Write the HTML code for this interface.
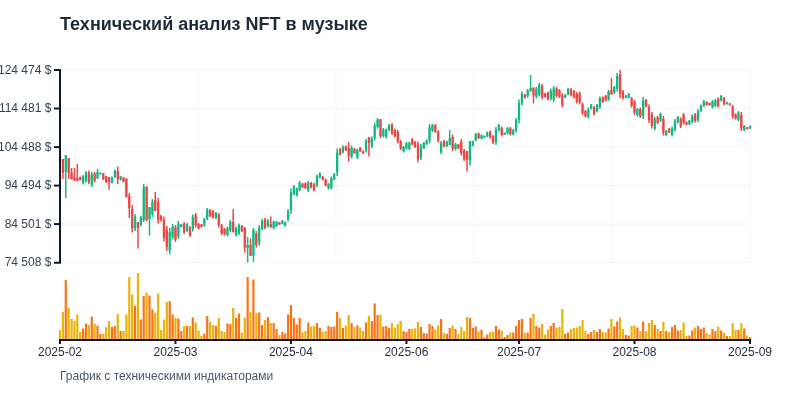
<!DOCTYPE html>
<html lang="ru"><head><meta charset="utf-8"><title>Технический анализ NFT в музыке</title>
<style>
html,body{margin:0;padding:0;background:#fff;}
body{width:800px;height:400px;overflow:hidden;font-family:"Liberation Sans",sans-serif;}
svg{display:block;will-change:transform;}
text{font-family:"Liberation Sans",sans-serif;}
.yl{font-size:12px;fill:#334155;text-anchor:end;}
.xl{font-size:12px;fill:#1e293b;text-anchor:middle;}
</style></head><body>
<svg width="800" height="400" viewBox="0 0 800 400">
<rect width="800" height="400" fill="#ffffff"/>
<text x="60" y="30" font-size="18" font-weight="700" fill="#1e293b">Технический анализ NFT в музыке</text>

<g stroke="#f5f6f8" stroke-width="1">
<line x1="60" x2="750" y1="70.0" y2="70.0"/>
<line x1="60" x2="750" y1="108.5" y2="108.5"/>
<line x1="60" x2="750" y1="147.1" y2="147.1"/>
<line x1="60" x2="750" y1="185.6" y2="185.6"/>
<line x1="60" x2="750" y1="224.1" y2="224.1"/>
<line x1="60" x2="750" y1="262.6" y2="262.6"/>
<line x1="198" x2="198" y1="70" y2="262.65"/>
<line x1="336" x2="336" y1="70" y2="262.65"/>
<line x1="474" x2="474" y1="70" y2="262.65"/>
<line x1="612" x2="612" y1="70" y2="262.65"/>
<line x1="750" x2="750" y1="70" y2="262.65"/>
</g>
<g>
<line x1="60.00" x2="60.00" y1="154.50" y2="162.00" stroke="#ef4444" stroke-width="1.5"/>
<rect x="58.85" y="154.50" width="2.3" height="7.50" fill="#ef4444"/>
<line x1="62.89" x2="62.89" y1="159.00" y2="179.00" stroke="#ef4444" stroke-width="1.5"/>
<rect x="61.74" y="159.00" width="2.3" height="14.00" fill="#ef4444"/>
<line x1="65.77" x2="65.77" y1="155.00" y2="198.00" stroke="#10b981" stroke-width="1.5"/>
<rect x="64.62" y="155.00" width="2.3" height="17.00" fill="#10b981"/>
<line x1="68.66" x2="68.66" y1="158.00" y2="179.00" stroke="#ef4444" stroke-width="1.5"/>
<rect x="67.51" y="158.00" width="2.3" height="15.00" fill="#ef4444"/>
<line x1="71.55" x2="71.55" y1="168.00" y2="179.40" stroke="#ef4444" stroke-width="1.5"/>
<rect x="70.40" y="172.50" width="2.3" height="6.90" fill="#ef4444"/>
<line x1="74.44" x2="74.44" y1="168.00" y2="181.00" stroke="#ef4444" stroke-width="1.5"/>
<rect x="73.29" y="177.00" width="2.3" height="3.50" fill="#ef4444"/>
<line x1="77.32" x2="77.32" y1="164.00" y2="181.20" stroke="#ef4444" stroke-width="1.5"/>
<rect x="76.17" y="178.00" width="2.3" height="3.00" fill="#ef4444"/>
<line x1="80.21" x2="80.21" y1="176.50" y2="180.50" stroke="#ef4444" stroke-width="1.5"/>
<rect x="79.06" y="177.10" width="2.3" height="2.80" fill="#ef4444"/>
<line x1="83.10" x2="83.10" y1="175.00" y2="184.50" stroke="#10b981" stroke-width="1.5"/>
<rect x="81.95" y="176.43" width="2.3" height="6.65" fill="#10b981"/>
<line x1="85.98" x2="85.98" y1="171.00" y2="182.50" stroke="#10b981" stroke-width="1.5"/>
<rect x="84.83" y="172.72" width="2.3" height="8.05" fill="#10b981"/>
<line x1="88.87" x2="88.87" y1="170.50" y2="184.00" stroke="#ef4444" stroke-width="1.5"/>
<rect x="87.72" y="172.53" width="2.3" height="9.45" fill="#ef4444"/>
<line x1="91.76" x2="91.76" y1="172.00" y2="187.00" stroke="#10b981" stroke-width="1.5"/>
<rect x="90.61" y="174.25" width="2.3" height="10.50" fill="#10b981"/>
<line x1="94.64" x2="94.64" y1="172.00" y2="182.50" stroke="#ef4444" stroke-width="1.5"/>
<rect x="93.49" y="173.57" width="2.3" height="7.35" fill="#ef4444"/>
<line x1="97.53" x2="97.53" y1="169.00" y2="178.50" stroke="#10b981" stroke-width="1.5"/>
<rect x="96.38" y="172.00" width="2.3" height="6.50" fill="#10b981"/>
<line x1="100.42" x2="100.42" y1="172.50" y2="174.50" stroke="#10b981" stroke-width="1.5"/>
<rect x="99.27" y="172.80" width="2.3" height="1.40" fill="#10b981"/>
<line x1="103.31" x2="103.31" y1="173.25" y2="179.60" stroke="#ef4444" stroke-width="1.5"/>
<rect x="102.16" y="173.25" width="2.3" height="6.35" fill="#ef4444"/>
<line x1="106.19" x2="106.19" y1="176.25" y2="182.60" stroke="#ef4444" stroke-width="1.5"/>
<rect x="105.04" y="176.25" width="2.3" height="6.35" fill="#ef4444"/>
<line x1="109.08" x2="109.08" y1="177.00" y2="189.75" stroke="#ef4444" stroke-width="1.5"/>
<rect x="107.93" y="177.00" width="2.3" height="5.00" fill="#ef4444"/>
<line x1="111.97" x2="111.97" y1="176.50" y2="183.50" stroke="#10b981" stroke-width="1.5"/>
<rect x="110.82" y="177.55" width="2.3" height="4.90" fill="#10b981"/>
<line x1="114.85" x2="114.85" y1="169.50" y2="178.00" stroke="#10b981" stroke-width="1.5"/>
<rect x="113.70" y="170.78" width="2.3" height="5.95" fill="#10b981"/>
<line x1="117.74" x2="117.74" y1="166.50" y2="184.00" stroke="#ef4444" stroke-width="1.5"/>
<rect x="116.59" y="171.00" width="2.3" height="8.25" fill="#ef4444"/>
<line x1="120.63" x2="120.63" y1="176.00" y2="180.50" stroke="#10b981" stroke-width="1.5"/>
<rect x="119.48" y="176.68" width="2.3" height="3.15" fill="#10b981"/>
<line x1="123.51" x2="123.51" y1="177.00" y2="182.50" stroke="#ef4444" stroke-width="1.5"/>
<rect x="122.36" y="177.82" width="2.3" height="3.85" fill="#ef4444"/>
<line x1="126.40" x2="126.40" y1="178.50" y2="197.50" stroke="#ef4444" stroke-width="1.5"/>
<rect x="125.25" y="178.50" width="2.3" height="18.50" fill="#ef4444"/>
<line x1="129.29" x2="129.29" y1="193.00" y2="218.00" stroke="#ef4444" stroke-width="1.5"/>
<rect x="128.14" y="196.00" width="2.3" height="12.00" fill="#ef4444"/>
<line x1="132.18" x2="132.18" y1="205.00" y2="232.50" stroke="#ef4444" stroke-width="1.5"/>
<rect x="131.03" y="209.12" width="2.3" height="19.25" fill="#ef4444"/>
<line x1="135.06" x2="135.06" y1="214.00" y2="231.00" stroke="#10b981" stroke-width="1.5"/>
<rect x="133.91" y="216.55" width="2.3" height="11.90" fill="#10b981"/>
<line x1="137.95" x2="137.95" y1="222.00" y2="248.50" stroke="#ef4444" stroke-width="1.5"/>
<rect x="136.80" y="222.00" width="2.3" height="6.00" fill="#ef4444"/>
<line x1="140.84" x2="140.84" y1="216.00" y2="226.50" stroke="#10b981" stroke-width="1.5"/>
<rect x="139.69" y="217.57" width="2.3" height="7.35" fill="#10b981"/>
<line x1="143.72" x2="143.72" y1="184.00" y2="222.00" stroke="#10b981" stroke-width="1.5"/>
<rect x="142.57" y="187.00" width="2.3" height="33.00" fill="#10b981"/>
<line x1="146.61" x2="146.61" y1="186.00" y2="221.50" stroke="#ef4444" stroke-width="1.5"/>
<rect x="145.46" y="187.00" width="2.3" height="33.00" fill="#ef4444"/>
<line x1="149.50" x2="149.50" y1="207.00" y2="235.50" stroke="#10b981" stroke-width="1.5"/>
<rect x="148.35" y="207.00" width="2.3" height="12.00" fill="#10b981"/>
<line x1="152.38" x2="152.38" y1="199.00" y2="217.00" stroke="#10b981" stroke-width="1.5"/>
<rect x="151.23" y="201.70" width="2.3" height="12.60" fill="#10b981"/>
<line x1="155.27" x2="155.27" y1="192.00" y2="211.00" stroke="#ef4444" stroke-width="1.5"/>
<rect x="154.12" y="200.00" width="2.3" height="11.00" fill="#ef4444"/>
<line x1="158.16" x2="158.16" y1="198.00" y2="223.50" stroke="#ef4444" stroke-width="1.5"/>
<rect x="157.01" y="201.82" width="2.3" height="17.85" fill="#ef4444"/>
<line x1="161.05" x2="161.05" y1="215.00" y2="221.50" stroke="#ef4444" stroke-width="1.5"/>
<rect x="159.90" y="215.97" width="2.3" height="4.55" fill="#ef4444"/>
<line x1="163.93" x2="163.93" y1="216.50" y2="241.50" stroke="#ef4444" stroke-width="1.5"/>
<rect x="162.78" y="220.25" width="2.3" height="17.50" fill="#ef4444"/>
<line x1="166.82" x2="166.82" y1="226.00" y2="251.00" stroke="#ef4444" stroke-width="1.5"/>
<rect x="165.67" y="229.75" width="2.3" height="17.50" fill="#ef4444"/>
<line x1="169.71" x2="169.71" y1="228.00" y2="254.50" stroke="#10b981" stroke-width="1.5"/>
<rect x="168.56" y="231.97" width="2.3" height="18.55" fill="#10b981"/>
<line x1="172.59" x2="172.59" y1="224.00" y2="239.50" stroke="#10b981" stroke-width="1.5"/>
<rect x="171.44" y="226.32" width="2.3" height="10.85" fill="#10b981"/>
<line x1="175.48" x2="175.48" y1="225.00" y2="242.00" stroke="#ef4444" stroke-width="1.5"/>
<rect x="174.33" y="227.55" width="2.3" height="11.90" fill="#ef4444"/>
<line x1="178.37" x2="178.37" y1="221.00" y2="238.50" stroke="#10b981" stroke-width="1.5"/>
<rect x="177.22" y="223.62" width="2.3" height="12.25" fill="#10b981"/>
<line x1="181.26" x2="181.26" y1="224.00" y2="227.50" stroke="#10b981" stroke-width="1.5"/>
<rect x="180.11" y="224.53" width="2.3" height="2.45" fill="#10b981"/>
<line x1="184.14" x2="184.14" y1="222.00" y2="234.00" stroke="#ef4444" stroke-width="1.5"/>
<rect x="182.99" y="223.80" width="2.3" height="8.40" fill="#ef4444"/>
<line x1="187.03" x2="187.03" y1="223.00" y2="232.00" stroke="#10b981" stroke-width="1.5"/>
<rect x="185.88" y="224.35" width="2.3" height="6.30" fill="#10b981"/>
<line x1="189.92" x2="189.92" y1="226.00" y2="237.00" stroke="#ef4444" stroke-width="1.5"/>
<rect x="188.77" y="227.65" width="2.3" height="7.70" fill="#ef4444"/>
<line x1="192.80" x2="192.80" y1="214.50" y2="231.50" stroke="#10b981" stroke-width="1.5"/>
<rect x="191.65" y="217.05" width="2.3" height="11.90" fill="#10b981"/>
<line x1="195.69" x2="195.69" y1="213.00" y2="227.50" stroke="#ef4444" stroke-width="1.5"/>
<rect x="194.54" y="215.18" width="2.3" height="10.15" fill="#ef4444"/>
<line x1="198.58" x2="198.58" y1="223.00" y2="229.50" stroke="#ef4444" stroke-width="1.5"/>
<rect x="197.43" y="223.97" width="2.3" height="4.55" fill="#ef4444"/>
<line x1="201.46" x2="201.46" y1="224.00" y2="227.50" stroke="#ef4444" stroke-width="1.5"/>
<rect x="200.31" y="224.53" width="2.3" height="2.45" fill="#ef4444"/>
<line x1="204.35" x2="204.35" y1="218.00" y2="226.50" stroke="#10b981" stroke-width="1.5"/>
<rect x="203.20" y="219.28" width="2.3" height="5.95" fill="#10b981"/>
<line x1="207.24" x2="207.24" y1="208.00" y2="220.00" stroke="#10b981" stroke-width="1.5"/>
<rect x="206.09" y="209.80" width="2.3" height="8.40" fill="#10b981"/>
<line x1="210.13" x2="210.13" y1="209.00" y2="217.00" stroke="#ef4444" stroke-width="1.5"/>
<rect x="208.98" y="210.20" width="2.3" height="5.60" fill="#ef4444"/>
<line x1="213.01" x2="213.01" y1="210.00" y2="218.50" stroke="#ef4444" stroke-width="1.5"/>
<rect x="211.86" y="211.28" width="2.3" height="5.95" fill="#ef4444"/>
<line x1="215.90" x2="215.90" y1="212.00" y2="219.00" stroke="#10b981" stroke-width="1.5"/>
<rect x="214.75" y="213.05" width="2.3" height="4.90" fill="#10b981"/>
<line x1="218.79" x2="218.79" y1="213.00" y2="227.50" stroke="#ef4444" stroke-width="1.5"/>
<rect x="217.64" y="215.18" width="2.3" height="10.15" fill="#ef4444"/>
<line x1="221.67" x2="221.67" y1="224.00" y2="235.00" stroke="#ef4444" stroke-width="1.5"/>
<rect x="220.52" y="225.65" width="2.3" height="7.70" fill="#ef4444"/>
<line x1="224.56" x2="224.56" y1="228.00" y2="235.50" stroke="#ef4444" stroke-width="1.5"/>
<rect x="223.41" y="229.12" width="2.3" height="5.25" fill="#ef4444"/>
<line x1="227.45" x2="227.45" y1="226.50" y2="236.50" stroke="#10b981" stroke-width="1.5"/>
<rect x="226.30" y="228.00" width="2.3" height="7.00" fill="#10b981"/>
<line x1="230.33" x2="230.33" y1="220.00" y2="232.00" stroke="#10b981" stroke-width="1.5"/>
<rect x="229.18" y="221.80" width="2.3" height="8.40" fill="#10b981"/>
<line x1="233.22" x2="233.22" y1="209.00" y2="232.50" stroke="#ef4444" stroke-width="1.5"/>
<rect x="232.07" y="222.00" width="2.3" height="10.00" fill="#ef4444"/>
<line x1="236.11" x2="236.11" y1="226.50" y2="236.50" stroke="#10b981" stroke-width="1.5"/>
<rect x="234.96" y="228.00" width="2.3" height="7.00" fill="#10b981"/>
<line x1="239.00" x2="239.00" y1="223.50" y2="235.00" stroke="#10b981" stroke-width="1.5"/>
<rect x="237.85" y="225.22" width="2.3" height="8.05" fill="#10b981"/>
<line x1="241.88" x2="241.88" y1="225.00" y2="232.00" stroke="#ef4444" stroke-width="1.5"/>
<rect x="240.73" y="226.05" width="2.3" height="4.90" fill="#ef4444"/>
<line x1="244.77" x2="244.77" y1="227.00" y2="252.50" stroke="#ef4444" stroke-width="1.5"/>
<rect x="243.62" y="228.00" width="2.3" height="19.50" fill="#ef4444"/>
<line x1="247.66" x2="247.66" y1="237.00" y2="262.50" stroke="#10b981" stroke-width="1.5"/>
<rect x="246.51" y="245.00" width="2.3" height="3.00" fill="#10b981"/>
<line x1="250.54" x2="250.54" y1="238.50" y2="256.00" stroke="#ef4444" stroke-width="1.5"/>
<rect x="249.39" y="245.00" width="2.3" height="11.00" fill="#ef4444"/>
<line x1="253.43" x2="253.43" y1="228.00" y2="262.00" stroke="#10b981" stroke-width="1.5"/>
<rect x="252.28" y="230.00" width="2.3" height="25.50" fill="#10b981"/>
<line x1="256.32" x2="256.32" y1="231.00" y2="247.50" stroke="#ef4444" stroke-width="1.5"/>
<rect x="255.17" y="233.47" width="2.3" height="11.55" fill="#ef4444"/>
<line x1="259.21" x2="259.21" y1="225.00" y2="245.50" stroke="#10b981" stroke-width="1.5"/>
<rect x="258.06" y="228.07" width="2.3" height="14.35" fill="#10b981"/>
<line x1="262.09" x2="262.09" y1="219.00" y2="230.50" stroke="#10b981" stroke-width="1.5"/>
<rect x="260.94" y="220.72" width="2.3" height="8.05" fill="#10b981"/>
<line x1="264.98" x2="264.98" y1="218.00" y2="229.50" stroke="#ef4444" stroke-width="1.5"/>
<rect x="263.83" y="219.72" width="2.3" height="8.05" fill="#ef4444"/>
<line x1="267.87" x2="267.87" y1="219.00" y2="227.50" stroke="#10b981" stroke-width="1.5"/>
<rect x="266.72" y="220.28" width="2.3" height="5.95" fill="#10b981"/>
<line x1="270.75" x2="270.75" y1="216.50" y2="227.50" stroke="#ef4444" stroke-width="1.5"/>
<rect x="269.60" y="224.00" width="2.3" height="3.50" fill="#ef4444"/>
<line x1="273.64" x2="273.64" y1="220.50" y2="229.50" stroke="#10b981" stroke-width="1.5"/>
<rect x="272.49" y="221.85" width="2.3" height="6.30" fill="#10b981"/>
<line x1="276.53" x2="276.53" y1="221.00" y2="227.00" stroke="#10b981" stroke-width="1.5"/>
<rect x="275.38" y="221.90" width="2.3" height="4.20" fill="#10b981"/>
<line x1="279.41" x2="279.41" y1="222.00" y2="225.00" stroke="#ef4444" stroke-width="1.5"/>
<rect x="278.26" y="222.45" width="2.3" height="2.10" fill="#ef4444"/>
<line x1="282.30" x2="282.30" y1="220.00" y2="224.50" stroke="#10b981" stroke-width="1.5"/>
<rect x="281.15" y="220.68" width="2.3" height="3.15" fill="#10b981"/>
<line x1="285.19" x2="285.19" y1="221.50" y2="226.50" stroke="#10b981" stroke-width="1.5"/>
<rect x="284.04" y="222.25" width="2.3" height="3.50" fill="#10b981"/>
<line x1="288.08" x2="288.08" y1="209.00" y2="221.50" stroke="#10b981" stroke-width="1.5"/>
<rect x="286.93" y="210.88" width="2.3" height="8.75" fill="#10b981"/>
<line x1="290.96" x2="290.96" y1="188.50" y2="214.00" stroke="#10b981" stroke-width="1.5"/>
<rect x="289.81" y="192.32" width="2.3" height="17.85" fill="#10b981"/>
<line x1="293.85" x2="293.85" y1="185.00" y2="195.50" stroke="#10b981" stroke-width="1.5"/>
<rect x="292.70" y="186.57" width="2.3" height="7.35" fill="#10b981"/>
<line x1="296.74" x2="296.74" y1="187.50" y2="196.50" stroke="#10b981" stroke-width="1.5"/>
<rect x="295.59" y="188.85" width="2.3" height="6.30" fill="#10b981"/>
<line x1="299.62" x2="299.62" y1="181.00" y2="191.50" stroke="#10b981" stroke-width="1.5"/>
<rect x="298.47" y="182.57" width="2.3" height="7.35" fill="#10b981"/>
<line x1="302.51" x2="302.51" y1="183.00" y2="188.00" stroke="#ef4444" stroke-width="1.5"/>
<rect x="301.36" y="183.75" width="2.3" height="3.50" fill="#ef4444"/>
<line x1="305.40" x2="305.40" y1="182.50" y2="189.00" stroke="#ef4444" stroke-width="1.5"/>
<rect x="304.25" y="183.47" width="2.3" height="4.55" fill="#ef4444"/>
<line x1="308.28" x2="308.28" y1="181.00" y2="192.00" stroke="#10b981" stroke-width="1.5"/>
<rect x="307.13" y="182.65" width="2.3" height="7.70" fill="#10b981"/>
<line x1="311.17" x2="311.17" y1="182.00" y2="188.50" stroke="#ef4444" stroke-width="1.5"/>
<rect x="310.02" y="182.97" width="2.3" height="4.55" fill="#ef4444"/>
<line x1="314.06" x2="314.06" y1="183.00" y2="191.50" stroke="#ef4444" stroke-width="1.5"/>
<rect x="312.91" y="184.28" width="2.3" height="5.95" fill="#ef4444"/>
<line x1="316.95" x2="316.95" y1="174.50" y2="187.00" stroke="#10b981" stroke-width="1.5"/>
<rect x="315.80" y="176.38" width="2.3" height="8.75" fill="#10b981"/>
<line x1="319.83" x2="319.83" y1="172.50" y2="178.50" stroke="#10b981" stroke-width="1.5"/>
<rect x="318.68" y="173.40" width="2.3" height="4.20" fill="#10b981"/>
<line x1="322.72" x2="322.72" y1="176.00" y2="180.50" stroke="#ef4444" stroke-width="1.5"/>
<rect x="321.57" y="176.68" width="2.3" height="3.15" fill="#ef4444"/>
<line x1="325.61" x2="325.61" y1="178.50" y2="186.50" stroke="#ef4444" stroke-width="1.5"/>
<rect x="324.46" y="179.70" width="2.3" height="5.60" fill="#ef4444"/>
<line x1="328.49" x2="328.49" y1="183.00" y2="189.50" stroke="#10b981" stroke-width="1.5"/>
<rect x="327.34" y="183.97" width="2.3" height="4.55" fill="#10b981"/>
<line x1="331.38" x2="331.38" y1="176.50" y2="189.50" stroke="#10b981" stroke-width="1.5"/>
<rect x="330.23" y="178.45" width="2.3" height="9.10" fill="#10b981"/>
<line x1="334.27" x2="334.27" y1="173.00" y2="180.50" stroke="#10b981" stroke-width="1.5"/>
<rect x="333.12" y="174.12" width="2.3" height="5.25" fill="#10b981"/>
<line x1="337.15" x2="337.15" y1="148.50" y2="176.00" stroke="#10b981" stroke-width="1.5"/>
<rect x="336.00" y="152.62" width="2.3" height="19.25" fill="#10b981"/>
<line x1="340.04" x2="340.04" y1="148.00" y2="155.50" stroke="#ef4444" stroke-width="1.5"/>
<rect x="338.89" y="149.12" width="2.3" height="5.25" fill="#ef4444"/>
<line x1="342.93" x2="342.93" y1="145.50" y2="153.50" stroke="#10b981" stroke-width="1.5"/>
<rect x="341.78" y="146.70" width="2.3" height="5.60" fill="#10b981"/>
<line x1="345.82" x2="345.82" y1="145.50" y2="151.00" stroke="#ef4444" stroke-width="1.5"/>
<rect x="344.67" y="146.32" width="2.3" height="3.85" fill="#ef4444"/>
<line x1="348.70" x2="348.70" y1="142.00" y2="161.50" stroke="#ef4444" stroke-width="1.5"/>
<rect x="347.55" y="148.00" width="2.3" height="8.00" fill="#ef4444"/>
<line x1="351.59" x2="351.59" y1="145.50" y2="158.50" stroke="#10b981" stroke-width="1.5"/>
<rect x="350.44" y="147.45" width="2.3" height="9.10" fill="#10b981"/>
<line x1="354.48" x2="354.48" y1="148.00" y2="154.00" stroke="#ef4444" stroke-width="1.5"/>
<rect x="353.33" y="148.90" width="2.3" height="4.20" fill="#ef4444"/>
<line x1="357.36" x2="357.36" y1="148.50" y2="159.00" stroke="#10b981" stroke-width="1.5"/>
<rect x="356.21" y="150.07" width="2.3" height="7.35" fill="#10b981"/>
<line x1="360.25" x2="360.25" y1="147.00" y2="152.00" stroke="#ef4444" stroke-width="1.5"/>
<rect x="359.10" y="147.75" width="2.3" height="3.50" fill="#ef4444"/>
<line x1="363.14" x2="363.14" y1="150.50" y2="154.00" stroke="#ef4444" stroke-width="1.5"/>
<rect x="361.99" y="151.03" width="2.3" height="2.45" fill="#ef4444"/>
<line x1="366.03" x2="366.03" y1="139.00" y2="152.50" stroke="#10b981" stroke-width="1.5"/>
<rect x="364.88" y="141.03" width="2.3" height="9.45" fill="#10b981"/>
<line x1="368.91" x2="368.91" y1="137.00" y2="156.50" stroke="#ef4444" stroke-width="1.5"/>
<rect x="367.76" y="137.00" width="2.3" height="6.00" fill="#ef4444"/>
<line x1="371.80" x2="371.80" y1="136.50" y2="148.00" stroke="#10b981" stroke-width="1.5"/>
<rect x="370.65" y="138.22" width="2.3" height="8.05" fill="#10b981"/>
<line x1="374.69" x2="374.69" y1="123.00" y2="140.50" stroke="#10b981" stroke-width="1.5"/>
<rect x="373.54" y="125.62" width="2.3" height="12.25" fill="#10b981"/>
<line x1="377.57" x2="377.57" y1="118.00" y2="128.50" stroke="#10b981" stroke-width="1.5"/>
<rect x="376.42" y="119.58" width="2.3" height="7.35" fill="#10b981"/>
<line x1="380.46" x2="380.46" y1="119.00" y2="138.00" stroke="#ef4444" stroke-width="1.5"/>
<rect x="379.31" y="119.00" width="2.3" height="17.00" fill="#ef4444"/>
<line x1="383.35" x2="383.35" y1="128.00" y2="137.50" stroke="#10b981" stroke-width="1.5"/>
<rect x="382.20" y="129.43" width="2.3" height="6.65" fill="#10b981"/>
<line x1="386.23" x2="386.23" y1="128.50" y2="138.50" stroke="#10b981" stroke-width="1.5"/>
<rect x="385.08" y="130.00" width="2.3" height="7.00" fill="#10b981"/>
<line x1="389.12" x2="389.12" y1="124.00" y2="131.00" stroke="#10b981" stroke-width="1.5"/>
<rect x="387.97" y="125.05" width="2.3" height="4.90" fill="#10b981"/>
<line x1="392.01" x2="392.01" y1="123.00" y2="135.00" stroke="#ef4444" stroke-width="1.5"/>
<rect x="390.86" y="124.80" width="2.3" height="8.40" fill="#ef4444"/>
<line x1="394.90" x2="394.90" y1="128.50" y2="137.50" stroke="#ef4444" stroke-width="1.5"/>
<rect x="393.75" y="129.85" width="2.3" height="6.30" fill="#ef4444"/>
<line x1="397.78" x2="397.78" y1="130.00" y2="143.50" stroke="#ef4444" stroke-width="1.5"/>
<rect x="396.63" y="132.03" width="2.3" height="9.45" fill="#ef4444"/>
<line x1="400.67" x2="400.67" y1="140.00" y2="150.00" stroke="#ef4444" stroke-width="1.5"/>
<rect x="399.52" y="141.50" width="2.3" height="7.00" fill="#ef4444"/>
<line x1="403.56" x2="403.56" y1="146.00" y2="152.50" stroke="#10b981" stroke-width="1.5"/>
<rect x="402.41" y="146.97" width="2.3" height="4.55" fill="#10b981"/>
<line x1="406.44" x2="406.44" y1="142.00" y2="149.50" stroke="#10b981" stroke-width="1.5"/>
<rect x="405.29" y="143.12" width="2.3" height="5.25" fill="#10b981"/>
<line x1="409.33" x2="409.33" y1="141.50" y2="150.00" stroke="#10b981" stroke-width="1.5"/>
<rect x="408.18" y="142.78" width="2.3" height="5.95" fill="#10b981"/>
<line x1="412.22" x2="412.22" y1="138.00" y2="145.50" stroke="#ef4444" stroke-width="1.5"/>
<rect x="411.07" y="139.12" width="2.3" height="5.25" fill="#ef4444"/>
<line x1="415.10" x2="415.10" y1="141.00" y2="148.00" stroke="#ef4444" stroke-width="1.5"/>
<rect x="413.95" y="142.05" width="2.3" height="4.90" fill="#ef4444"/>
<line x1="417.99" x2="417.99" y1="141.50" y2="162.50" stroke="#ef4444" stroke-width="1.5"/>
<rect x="416.84" y="144.65" width="2.3" height="14.70" fill="#ef4444"/>
<line x1="420.88" x2="420.88" y1="144.00" y2="160.00" stroke="#10b981" stroke-width="1.5"/>
<rect x="419.73" y="146.40" width="2.3" height="11.20" fill="#10b981"/>
<line x1="423.77" x2="423.77" y1="142.00" y2="149.00" stroke="#10b981" stroke-width="1.5"/>
<rect x="422.62" y="143.05" width="2.3" height="4.90" fill="#10b981"/>
<line x1="426.65" x2="426.65" y1="139.50" y2="145.00" stroke="#10b981" stroke-width="1.5"/>
<rect x="425.50" y="140.32" width="2.3" height="3.85" fill="#10b981"/>
<line x1="429.54" x2="429.54" y1="124.00" y2="143.50" stroke="#10b981" stroke-width="1.5"/>
<rect x="428.39" y="126.92" width="2.3" height="13.65" fill="#10b981"/>
<line x1="432.43" x2="432.43" y1="124.00" y2="132.00" stroke="#10b981" stroke-width="1.5"/>
<rect x="431.28" y="125.20" width="2.3" height="5.60" fill="#10b981"/>
<line x1="435.31" x2="435.31" y1="124.00" y2="133.00" stroke="#ef4444" stroke-width="1.5"/>
<rect x="434.16" y="125.35" width="2.3" height="6.30" fill="#ef4444"/>
<line x1="438.20" x2="438.20" y1="130.00" y2="142.50" stroke="#ef4444" stroke-width="1.5"/>
<rect x="437.05" y="131.88" width="2.3" height="8.75" fill="#ef4444"/>
<line x1="441.09" x2="441.09" y1="141.00" y2="154.00" stroke="#10b981" stroke-width="1.5"/>
<rect x="439.94" y="142.95" width="2.3" height="9.10" fill="#10b981"/>
<line x1="443.97" x2="443.97" y1="140.00" y2="147.50" stroke="#ef4444" stroke-width="1.5"/>
<rect x="442.82" y="141.12" width="2.3" height="5.25" fill="#ef4444"/>
<line x1="446.86" x2="446.86" y1="141.00" y2="147.00" stroke="#10b981" stroke-width="1.5"/>
<rect x="445.71" y="141.90" width="2.3" height="4.20" fill="#10b981"/>
<line x1="449.75" x2="449.75" y1="130.00" y2="145.00" stroke="#10b981" stroke-width="1.5"/>
<rect x="448.60" y="138.00" width="2.3" height="7.00" fill="#10b981"/>
<line x1="452.64" x2="452.64" y1="134.50" y2="151.50" stroke="#ef4444" stroke-width="1.5"/>
<rect x="451.49" y="137.05" width="2.3" height="11.90" fill="#ef4444"/>
<line x1="455.52" x2="455.52" y1="143.00" y2="150.50" stroke="#10b981" stroke-width="1.5"/>
<rect x="454.37" y="144.12" width="2.3" height="5.25" fill="#10b981"/>
<line x1="458.41" x2="458.41" y1="144.00" y2="149.00" stroke="#ef4444" stroke-width="1.5"/>
<rect x="457.26" y="144.75" width="2.3" height="3.50" fill="#ef4444"/>
<line x1="461.30" x2="461.30" y1="139.00" y2="155.50" stroke="#ef4444" stroke-width="1.5"/>
<rect x="460.15" y="141.47" width="2.3" height="11.55" fill="#ef4444"/>
<line x1="464.18" x2="464.18" y1="149.00" y2="161.00" stroke="#ef4444" stroke-width="1.5"/>
<rect x="463.03" y="150.80" width="2.3" height="8.40" fill="#ef4444"/>
<line x1="467.07" x2="467.07" y1="151.00" y2="171.50" stroke="#ef4444" stroke-width="1.5"/>
<rect x="465.92" y="151.00" width="2.3" height="9.00" fill="#ef4444"/>
<line x1="469.96" x2="469.96" y1="141.00" y2="165.50" stroke="#10b981" stroke-width="1.5"/>
<rect x="468.81" y="141.00" width="2.3" height="19.50" fill="#10b981"/>
<line x1="472.85" x2="472.85" y1="140.50" y2="146.50" stroke="#10b981" stroke-width="1.5"/>
<rect x="471.70" y="141.40" width="2.3" height="4.20" fill="#10b981"/>
<line x1="475.73" x2="475.73" y1="133.00" y2="141.50" stroke="#10b981" stroke-width="1.5"/>
<rect x="474.58" y="134.28" width="2.3" height="5.95" fill="#10b981"/>
<line x1="478.62" x2="478.62" y1="132.50" y2="139.00" stroke="#ef4444" stroke-width="1.5"/>
<rect x="477.47" y="133.47" width="2.3" height="4.55" fill="#ef4444"/>
<line x1="481.51" x2="481.51" y1="134.50" y2="139.50" stroke="#10b981" stroke-width="1.5"/>
<rect x="480.36" y="135.25" width="2.3" height="3.50" fill="#10b981"/>
<line x1="484.39" x2="484.39" y1="135.50" y2="138.00" stroke="#10b981" stroke-width="1.5"/>
<rect x="483.24" y="135.88" width="2.3" height="1.75" fill="#10b981"/>
<line x1="487.28" x2="487.28" y1="131.50" y2="137.00" stroke="#10b981" stroke-width="1.5"/>
<rect x="486.13" y="132.32" width="2.3" height="3.85" fill="#10b981"/>
<line x1="490.17" x2="490.17" y1="130.50" y2="138.50" stroke="#ef4444" stroke-width="1.5"/>
<rect x="489.02" y="131.70" width="2.3" height="5.60" fill="#ef4444"/>
<line x1="493.05" x2="493.05" y1="135.00" y2="144.00" stroke="#ef4444" stroke-width="1.5"/>
<rect x="491.90" y="136.35" width="2.3" height="6.30" fill="#ef4444"/>
<line x1="495.94" x2="495.94" y1="127.00" y2="145.00" stroke="#10b981" stroke-width="1.5"/>
<rect x="494.79" y="129.70" width="2.3" height="12.60" fill="#10b981"/>
<line x1="498.83" x2="498.83" y1="124.00" y2="131.50" stroke="#10b981" stroke-width="1.5"/>
<rect x="497.68" y="125.12" width="2.3" height="5.25" fill="#10b981"/>
<line x1="501.72" x2="501.72" y1="126.50" y2="136.50" stroke="#ef4444" stroke-width="1.5"/>
<rect x="500.57" y="128.00" width="2.3" height="7.00" fill="#ef4444"/>
<line x1="504.60" x2="504.60" y1="132.50" y2="135.00" stroke="#10b981" stroke-width="1.5"/>
<rect x="503.45" y="132.88" width="2.3" height="1.75" fill="#10b981"/>
<line x1="507.49" x2="507.49" y1="127.00" y2="134.50" stroke="#10b981" stroke-width="1.5"/>
<rect x="506.34" y="128.12" width="2.3" height="5.25" fill="#10b981"/>
<line x1="510.38" x2="510.38" y1="127.00" y2="135.50" stroke="#ef4444" stroke-width="1.5"/>
<rect x="509.23" y="128.28" width="2.3" height="5.95" fill="#ef4444"/>
<line x1="513.26" x2="513.26" y1="129.00" y2="135.50" stroke="#10b981" stroke-width="1.5"/>
<rect x="512.11" y="129.97" width="2.3" height="4.55" fill="#10b981"/>
<line x1="516.15" x2="516.15" y1="118.00" y2="132.50" stroke="#10b981" stroke-width="1.5"/>
<rect x="515.00" y="120.17" width="2.3" height="10.15" fill="#10b981"/>
<line x1="519.04" x2="519.04" y1="99.50" y2="123.50" stroke="#10b981" stroke-width="1.5"/>
<rect x="517.89" y="103.10" width="2.3" height="16.80" fill="#10b981"/>
<line x1="521.92" x2="521.92" y1="91.50" y2="105.50" stroke="#10b981" stroke-width="1.5"/>
<rect x="520.77" y="93.60" width="2.3" height="9.80" fill="#10b981"/>
<line x1="524.81" x2="524.81" y1="94.00" y2="98.50" stroke="#ef4444" stroke-width="1.5"/>
<rect x="523.66" y="94.67" width="2.3" height="3.15" fill="#ef4444"/>
<line x1="527.70" x2="527.70" y1="89.00" y2="97.50" stroke="#10b981" stroke-width="1.5"/>
<rect x="526.55" y="90.28" width="2.3" height="5.95" fill="#10b981"/>
<line x1="530.59" x2="530.59" y1="75.00" y2="91.50" stroke="#10b981" stroke-width="1.5"/>
<rect x="529.44" y="88.00" width="2.3" height="3.50" fill="#10b981"/>
<line x1="533.47" x2="533.47" y1="87.50" y2="103.50" stroke="#ef4444" stroke-width="1.5"/>
<rect x="532.32" y="87.50" width="2.3" height="8.00" fill="#ef4444"/>
<line x1="536.36" x2="536.36" y1="87.00" y2="98.50" stroke="#10b981" stroke-width="1.5"/>
<rect x="535.21" y="88.72" width="2.3" height="8.05" fill="#10b981"/>
<line x1="539.25" x2="539.25" y1="83.00" y2="96.50" stroke="#10b981" stroke-width="1.5"/>
<rect x="538.10" y="85.03" width="2.3" height="9.45" fill="#10b981"/>
<line x1="542.13" x2="542.13" y1="84.00" y2="99.50" stroke="#ef4444" stroke-width="1.5"/>
<rect x="540.98" y="86.33" width="2.3" height="10.85" fill="#ef4444"/>
<line x1="545.02" x2="545.02" y1="93.00" y2="97.50" stroke="#ef4444" stroke-width="1.5"/>
<rect x="543.87" y="93.67" width="2.3" height="3.15" fill="#ef4444"/>
<line x1="547.91" x2="547.91" y1="91.50" y2="100.50" stroke="#ef4444" stroke-width="1.5"/>
<rect x="546.76" y="92.85" width="2.3" height="6.30" fill="#ef4444"/>
<line x1="550.79" x2="550.79" y1="88.50" y2="100.50" stroke="#10b981" stroke-width="1.5"/>
<rect x="549.64" y="90.30" width="2.3" height="8.40" fill="#10b981"/>
<line x1="553.68" x2="553.68" y1="86.00" y2="102.00" stroke="#10b981" stroke-width="1.5"/>
<rect x="552.53" y="88.40" width="2.3" height="11.20" fill="#10b981"/>
<line x1="556.57" x2="556.57" y1="87.00" y2="97.50" stroke="#ef4444" stroke-width="1.5"/>
<rect x="555.42" y="88.58" width="2.3" height="7.35" fill="#ef4444"/>
<line x1="559.46" x2="559.46" y1="89.00" y2="98.00" stroke="#ef4444" stroke-width="1.5"/>
<rect x="558.31" y="90.35" width="2.3" height="6.30" fill="#ef4444"/>
<line x1="562.34" x2="562.34" y1="93.00" y2="107.50" stroke="#ef4444" stroke-width="1.5"/>
<rect x="561.19" y="95.17" width="2.3" height="10.15" fill="#ef4444"/>
<line x1="565.23" x2="565.23" y1="94.00" y2="98.00" stroke="#10b981" stroke-width="1.5"/>
<rect x="564.08" y="94.60" width="2.3" height="2.80" fill="#10b981"/>
<line x1="568.12" x2="568.12" y1="88.00" y2="95.50" stroke="#10b981" stroke-width="1.5"/>
<rect x="566.97" y="89.12" width="2.3" height="5.25" fill="#10b981"/>
<line x1="571.00" x2="571.00" y1="88.00" y2="96.50" stroke="#ef4444" stroke-width="1.5"/>
<rect x="569.85" y="89.28" width="2.3" height="5.95" fill="#ef4444"/>
<line x1="573.89" x2="573.89" y1="90.00" y2="98.50" stroke="#ef4444" stroke-width="1.5"/>
<rect x="572.74" y="91.28" width="2.3" height="5.95" fill="#ef4444"/>
<line x1="576.78" x2="576.78" y1="92.00" y2="103.50" stroke="#ef4444" stroke-width="1.5"/>
<rect x="575.63" y="93.72" width="2.3" height="8.05" fill="#ef4444"/>
<line x1="579.67" x2="579.67" y1="91.50" y2="104.50" stroke="#ef4444" stroke-width="1.5"/>
<rect x="578.52" y="93.45" width="2.3" height="9.10" fill="#ef4444"/>
<line x1="582.55" x2="582.55" y1="102.50" y2="115.00" stroke="#ef4444" stroke-width="1.5"/>
<rect x="581.40" y="104.38" width="2.3" height="8.75" fill="#ef4444"/>
<line x1="585.44" x2="585.44" y1="110.00" y2="117.50" stroke="#ef4444" stroke-width="1.5"/>
<rect x="584.29" y="111.12" width="2.3" height="5.25" fill="#ef4444"/>
<line x1="588.33" x2="588.33" y1="107.50" y2="118.50" stroke="#10b981" stroke-width="1.5"/>
<rect x="587.18" y="109.15" width="2.3" height="7.70" fill="#10b981"/>
<line x1="591.21" x2="591.21" y1="104.00" y2="109.50" stroke="#10b981" stroke-width="1.5"/>
<rect x="590.06" y="104.83" width="2.3" height="3.85" fill="#10b981"/>
<line x1="594.10" x2="594.10" y1="106.00" y2="115.50" stroke="#ef4444" stroke-width="1.5"/>
<rect x="592.95" y="107.42" width="2.3" height="6.65" fill="#ef4444"/>
<line x1="596.99" x2="596.99" y1="104.00" y2="112.50" stroke="#10b981" stroke-width="1.5"/>
<rect x="595.84" y="105.28" width="2.3" height="5.95" fill="#10b981"/>
<line x1="599.87" x2="599.87" y1="96.50" y2="109.00" stroke="#10b981" stroke-width="1.5"/>
<rect x="598.72" y="98.38" width="2.3" height="8.75" fill="#10b981"/>
<line x1="602.76" x2="602.76" y1="96.50" y2="103.00" stroke="#ef4444" stroke-width="1.5"/>
<rect x="601.61" y="97.47" width="2.3" height="4.55" fill="#ef4444"/>
<line x1="605.65" x2="605.65" y1="95.00" y2="101.50" stroke="#ef4444" stroke-width="1.5"/>
<rect x="604.50" y="95.97" width="2.3" height="4.55" fill="#ef4444"/>
<line x1="608.54" x2="608.54" y1="90.00" y2="101.00" stroke="#10b981" stroke-width="1.5"/>
<rect x="607.39" y="91.65" width="2.3" height="7.70" fill="#10b981"/>
<line x1="611.42" x2="611.42" y1="78.00" y2="94.50" stroke="#ef4444" stroke-width="1.5"/>
<rect x="610.27" y="90.00" width="2.3" height="4.50" fill="#ef4444"/>
<line x1="614.31" x2="614.31" y1="86.00" y2="94.00" stroke="#10b981" stroke-width="1.5"/>
<rect x="613.16" y="87.20" width="2.3" height="5.60" fill="#10b981"/>
<line x1="617.20" x2="617.20" y1="73.00" y2="91.50" stroke="#10b981" stroke-width="1.5"/>
<rect x="616.05" y="75.78" width="2.3" height="12.95" fill="#10b981"/>
<line x1="620.08" x2="620.08" y1="70.00" y2="98.00" stroke="#ef4444" stroke-width="1.5"/>
<rect x="618.93" y="74.00" width="2.3" height="20.00" fill="#ef4444"/>
<line x1="622.97" x2="622.97" y1="90.00" y2="99.50" stroke="#ef4444" stroke-width="1.5"/>
<rect x="621.82" y="91.42" width="2.3" height="6.65" fill="#ef4444"/>
<line x1="625.86" x2="625.86" y1="95.00" y2="98.50" stroke="#10b981" stroke-width="1.5"/>
<rect x="624.71" y="95.53" width="2.3" height="2.45" fill="#10b981"/>
<line x1="628.74" x2="628.74" y1="93.00" y2="98.50" stroke="#10b981" stroke-width="1.5"/>
<rect x="627.59" y="93.83" width="2.3" height="3.85" fill="#10b981"/>
<line x1="631.63" x2="631.63" y1="97.00" y2="107.50" stroke="#ef4444" stroke-width="1.5"/>
<rect x="630.48" y="98.58" width="2.3" height="7.35" fill="#ef4444"/>
<line x1="634.52" x2="634.52" y1="100.00" y2="115.00" stroke="#ef4444" stroke-width="1.5"/>
<rect x="633.37" y="102.25" width="2.3" height="10.50" fill="#ef4444"/>
<line x1="637.41" x2="637.41" y1="108.00" y2="116.50" stroke="#10b981" stroke-width="1.5"/>
<rect x="636.26" y="109.28" width="2.3" height="5.95" fill="#10b981"/>
<line x1="640.29" x2="640.29" y1="107.50" y2="118.00" stroke="#ef4444" stroke-width="1.5"/>
<rect x="639.14" y="109.08" width="2.3" height="7.35" fill="#ef4444"/>
<line x1="643.18" x2="643.18" y1="97.00" y2="119.00" stroke="#10b981" stroke-width="1.5"/>
<rect x="642.03" y="100.30" width="2.3" height="15.40" fill="#10b981"/>
<line x1="646.07" x2="646.07" y1="99.00" y2="107.50" stroke="#ef4444" stroke-width="1.5"/>
<rect x="644.92" y="100.28" width="2.3" height="5.95" fill="#ef4444"/>
<line x1="648.95" x2="648.95" y1="104.50" y2="123.00" stroke="#ef4444" stroke-width="1.5"/>
<rect x="647.80" y="107.28" width="2.3" height="12.95" fill="#ef4444"/>
<line x1="651.84" x2="651.84" y1="112.00" y2="128.50" stroke="#ef4444" stroke-width="1.5"/>
<rect x="650.69" y="114.47" width="2.3" height="11.55" fill="#ef4444"/>
<line x1="654.73" x2="654.73" y1="117.00" y2="130.50" stroke="#10b981" stroke-width="1.5"/>
<rect x="653.58" y="119.03" width="2.3" height="9.45" fill="#10b981"/>
<line x1="657.62" x2="657.62" y1="116.00" y2="124.00" stroke="#ef4444" stroke-width="1.5"/>
<rect x="656.47" y="117.20" width="2.3" height="5.60" fill="#ef4444"/>
<line x1="660.50" x2="660.50" y1="112.50" y2="122.00" stroke="#10b981" stroke-width="1.5"/>
<rect x="659.35" y="113.92" width="2.3" height="6.65" fill="#10b981"/>
<line x1="663.39" x2="663.39" y1="116.00" y2="135.50" stroke="#ef4444" stroke-width="1.5"/>
<rect x="662.24" y="118.92" width="2.3" height="13.65" fill="#ef4444"/>
<line x1="666.28" x2="666.28" y1="130.00" y2="136.00" stroke="#10b981" stroke-width="1.5"/>
<rect x="665.13" y="130.90" width="2.3" height="4.20" fill="#10b981"/>
<line x1="669.16" x2="669.16" y1="128.00" y2="133.00" stroke="#ef4444" stroke-width="1.5"/>
<rect x="668.01" y="128.75" width="2.3" height="3.50" fill="#ef4444"/>
<line x1="672.05" x2="672.05" y1="126.50" y2="136.50" stroke="#10b981" stroke-width="1.5"/>
<rect x="670.90" y="128.00" width="2.3" height="7.00" fill="#10b981"/>
<line x1="674.94" x2="674.94" y1="119.00" y2="131.50" stroke="#10b981" stroke-width="1.5"/>
<rect x="673.79" y="120.88" width="2.3" height="8.75" fill="#10b981"/>
<line x1="677.82" x2="677.82" y1="116.00" y2="123.50" stroke="#10b981" stroke-width="1.5"/>
<rect x="676.67" y="117.12" width="2.3" height="5.25" fill="#10b981"/>
<line x1="680.71" x2="680.71" y1="117.50" y2="128.00" stroke="#ef4444" stroke-width="1.5"/>
<rect x="679.56" y="119.08" width="2.3" height="7.35" fill="#ef4444"/>
<line x1="683.60" x2="683.60" y1="113.00" y2="124.50" stroke="#ef4444" stroke-width="1.5"/>
<rect x="682.45" y="114.72" width="2.3" height="8.05" fill="#ef4444"/>
<line x1="686.49" x2="686.49" y1="121.50" y2="125.50" stroke="#ef4444" stroke-width="1.5"/>
<rect x="685.34" y="122.10" width="2.3" height="2.80" fill="#ef4444"/>
<line x1="689.37" x2="689.37" y1="120.00" y2="125.00" stroke="#10b981" stroke-width="1.5"/>
<rect x="688.22" y="120.75" width="2.3" height="3.50" fill="#10b981"/>
<line x1="692.26" x2="692.26" y1="114.50" y2="123.00" stroke="#10b981" stroke-width="1.5"/>
<rect x="691.11" y="115.78" width="2.3" height="5.95" fill="#10b981"/>
<line x1="695.15" x2="695.15" y1="113.00" y2="122.50" stroke="#ef4444" stroke-width="1.5"/>
<rect x="694.00" y="114.42" width="2.3" height="6.65" fill="#ef4444"/>
<line x1="698.03" x2="698.03" y1="109.00" y2="122.00" stroke="#10b981" stroke-width="1.5"/>
<rect x="696.88" y="110.95" width="2.3" height="9.10" fill="#10b981"/>
<line x1="700.92" x2="700.92" y1="104.50" y2="112.00" stroke="#10b981" stroke-width="1.5"/>
<rect x="699.77" y="105.62" width="2.3" height="5.25" fill="#10b981"/>
<line x1="703.81" x2="703.81" y1="100.00" y2="107.00" stroke="#10b981" stroke-width="1.5"/>
<rect x="702.66" y="101.05" width="2.3" height="4.90" fill="#10b981"/>
<line x1="706.69" x2="706.69" y1="101.50" y2="105.50" stroke="#ef4444" stroke-width="1.5"/>
<rect x="705.54" y="102.10" width="2.3" height="2.80" fill="#ef4444"/>
<line x1="709.58" x2="709.58" y1="102.50" y2="105.50" stroke="#ef4444" stroke-width="1.5"/>
<rect x="708.43" y="102.95" width="2.3" height="2.10" fill="#ef4444"/>
<line x1="712.47" x2="712.47" y1="100.00" y2="108.50" stroke="#10b981" stroke-width="1.5"/>
<rect x="711.32" y="101.28" width="2.3" height="5.95" fill="#10b981"/>
<line x1="715.36" x2="715.36" y1="99.00" y2="107.00" stroke="#10b981" stroke-width="1.5"/>
<rect x="714.21" y="100.20" width="2.3" height="5.60" fill="#10b981"/>
<line x1="718.24" x2="718.24" y1="97.50" y2="107.50" stroke="#ef4444" stroke-width="1.5"/>
<rect x="717.09" y="99.00" width="2.3" height="7.00" fill="#ef4444"/>
<line x1="721.13" x2="721.13" y1="95.00" y2="101.50" stroke="#10b981" stroke-width="1.5"/>
<rect x="719.98" y="95.97" width="2.3" height="4.55" fill="#10b981"/>
<line x1="724.02" x2="724.02" y1="97.00" y2="105.50" stroke="#ef4444" stroke-width="1.5"/>
<rect x="722.87" y="98.28" width="2.3" height="5.95" fill="#ef4444"/>
<line x1="726.90" x2="726.90" y1="102.00" y2="104.50" stroke="#10b981" stroke-width="1.5"/>
<rect x="725.75" y="102.38" width="2.3" height="1.75" fill="#10b981"/>
<line x1="729.79" x2="729.79" y1="103.00" y2="105.50" stroke="#ef4444" stroke-width="1.5"/>
<rect x="728.64" y="103.38" width="2.3" height="1.75" fill="#ef4444"/>
<line x1="732.68" x2="732.68" y1="105.00" y2="118.50" stroke="#ef4444" stroke-width="1.5"/>
<rect x="731.53" y="107.03" width="2.3" height="9.45" fill="#ef4444"/>
<line x1="735.56" x2="735.56" y1="113.50" y2="119.50" stroke="#ef4444" stroke-width="1.5"/>
<rect x="734.41" y="114.40" width="2.3" height="4.20" fill="#ef4444"/>
<line x1="738.45" x2="738.45" y1="111.00" y2="121.50" stroke="#10b981" stroke-width="1.5"/>
<rect x="737.30" y="112.58" width="2.3" height="7.35" fill="#10b981"/>
<line x1="741.34" x2="741.34" y1="112.00" y2="131.00" stroke="#ef4444" stroke-width="1.5"/>
<rect x="740.19" y="114.85" width="2.3" height="13.30" fill="#ef4444"/>
<line x1="744.23" x2="744.23" y1="125.00" y2="131.00" stroke="#10b981" stroke-width="1.5"/>
<rect x="743.08" y="125.90" width="2.3" height="4.20" fill="#10b981"/>
<line x1="747.11" x2="747.11" y1="127.00" y2="129.50" stroke="#ef4444" stroke-width="1.5"/>
<rect x="745.96" y="127.38" width="2.3" height="1.75" fill="#ef4444"/>
<line x1="750.00" x2="750.00" y1="125.50" y2="129.00" stroke="#10b981" stroke-width="1.5"/>
<rect x="748.85" y="126.03" width="2.3" height="2.45" fill="#10b981"/>
</g>
<g>
<rect x="58.90" y="330.00" width="2.2" height="10.00" fill="#eab308"/>
<rect x="61.79" y="312.00" width="2.2" height="28.00" fill="#eab308"/>
<rect x="64.67" y="280.00" width="2.2" height="60.00" fill="#f97316"/>
<rect x="67.56" y="308.00" width="2.2" height="32.00" fill="#eab308"/>
<rect x="70.45" y="319.00" width="2.2" height="21.00" fill="#eab308"/>
<rect x="73.34" y="321.00" width="2.2" height="19.00" fill="#eab308"/>
<rect x="76.22" y="314.50" width="2.2" height="25.50" fill="#eab308"/>
<rect x="79.11" y="332.00" width="2.2" height="8.00" fill="#eab308"/>
<rect x="82.00" y="328.50" width="2.2" height="11.50" fill="#f97316"/>
<rect x="84.88" y="323.50" width="2.2" height="16.50" fill="#f97316"/>
<rect x="87.77" y="325.00" width="2.2" height="15.00" fill="#eab308"/>
<rect x="90.66" y="316.50" width="2.2" height="23.50" fill="#f97316"/>
<rect x="93.54" y="324.00" width="2.2" height="16.00" fill="#eab308"/>
<rect x="96.43" y="325.50" width="2.2" height="14.50" fill="#f97316"/>
<rect x="99.32" y="334.00" width="2.2" height="6.00" fill="#f97316"/>
<rect x="102.21" y="333.50" width="2.2" height="6.50" fill="#eab308"/>
<rect x="105.09" y="327.00" width="2.2" height="13.00" fill="#eab308"/>
<rect x="107.98" y="321.00" width="2.2" height="19.00" fill="#eab308"/>
<rect x="110.87" y="327.00" width="2.2" height="13.00" fill="#f97316"/>
<rect x="113.75" y="326.00" width="2.2" height="14.00" fill="#f97316"/>
<rect x="116.64" y="314.00" width="2.2" height="26.00" fill="#eab308"/>
<rect x="119.53" y="331.00" width="2.2" height="9.00" fill="#f97316"/>
<rect x="122.41" y="331.00" width="2.2" height="9.00" fill="#eab308"/>
<rect x="125.30" y="314.50" width="2.2" height="25.50" fill="#eab308"/>
<rect x="128.19" y="277.00" width="2.2" height="63.00" fill="#eab308"/>
<rect x="131.08" y="294.50" width="2.2" height="45.50" fill="#eab308"/>
<rect x="133.96" y="306.00" width="2.2" height="34.00" fill="#f97316"/>
<rect x="136.85" y="273.00" width="2.2" height="67.00" fill="#eab308"/>
<rect x="139.74" y="319.50" width="2.2" height="20.50" fill="#f97316"/>
<rect x="142.62" y="296.00" width="2.2" height="44.00" fill="#f97316"/>
<rect x="145.51" y="292.50" width="2.2" height="47.50" fill="#eab308"/>
<rect x="148.40" y="295.50" width="2.2" height="44.50" fill="#f97316"/>
<rect x="151.28" y="309.50" width="2.2" height="30.50" fill="#f97316"/>
<rect x="154.17" y="312.50" width="2.2" height="27.50" fill="#eab308"/>
<rect x="157.06" y="293.50" width="2.2" height="46.50" fill="#eab308"/>
<rect x="159.95" y="330.00" width="2.2" height="10.00" fill="#eab308"/>
<rect x="162.83" y="319.50" width="2.2" height="20.50" fill="#eab308"/>
<rect x="165.72" y="302.00" width="2.2" height="38.00" fill="#eab308"/>
<rect x="168.61" y="301.00" width="2.2" height="39.00" fill="#f97316"/>
<rect x="171.49" y="314.50" width="2.2" height="25.50" fill="#f97316"/>
<rect x="174.38" y="318.00" width="2.2" height="22.00" fill="#eab308"/>
<rect x="177.27" y="318.50" width="2.2" height="21.50" fill="#f97316"/>
<rect x="180.16" y="331.00" width="2.2" height="9.00" fill="#f97316"/>
<rect x="183.04" y="326.00" width="2.2" height="14.00" fill="#eab308"/>
<rect x="185.93" y="326.00" width="2.2" height="14.00" fill="#f97316"/>
<rect x="188.82" y="326.00" width="2.2" height="14.00" fill="#eab308"/>
<rect x="191.70" y="317.50" width="2.2" height="22.50" fill="#f97316"/>
<rect x="194.59" y="322.50" width="2.2" height="17.50" fill="#eab308"/>
<rect x="197.48" y="330.50" width="2.2" height="9.50" fill="#eab308"/>
<rect x="200.36" y="336.00" width="2.2" height="4.00" fill="#eab308"/>
<rect x="203.25" y="333.50" width="2.2" height="6.50" fill="#f97316"/>
<rect x="206.14" y="316.00" width="2.2" height="24.00" fill="#f97316"/>
<rect x="209.03" y="322.00" width="2.2" height="18.00" fill="#eab308"/>
<rect x="211.91" y="325.00" width="2.2" height="15.00" fill="#eab308"/>
<rect x="214.80" y="326.00" width="2.2" height="14.00" fill="#f97316"/>
<rect x="217.69" y="318.00" width="2.2" height="22.00" fill="#eab308"/>
<rect x="220.57" y="331.00" width="2.2" height="9.00" fill="#eab308"/>
<rect x="223.46" y="332.00" width="2.2" height="8.00" fill="#eab308"/>
<rect x="226.35" y="323.50" width="2.2" height="16.50" fill="#f97316"/>
<rect x="229.23" y="324.00" width="2.2" height="16.00" fill="#f97316"/>
<rect x="232.12" y="308.00" width="2.2" height="32.00" fill="#eab308"/>
<rect x="235.01" y="318.00" width="2.2" height="22.00" fill="#f97316"/>
<rect x="237.90" y="313.50" width="2.2" height="26.50" fill="#f97316"/>
<rect x="240.78" y="332.50" width="2.2" height="7.50" fill="#eab308"/>
<rect x="243.67" y="317.50" width="2.2" height="22.50" fill="#eab308"/>
<rect x="246.56" y="277.00" width="2.2" height="63.00" fill="#f97316"/>
<rect x="249.44" y="312.00" width="2.2" height="28.00" fill="#eab308"/>
<rect x="252.33" y="279.50" width="2.2" height="60.50" fill="#f97316"/>
<rect x="255.22" y="313.00" width="2.2" height="27.00" fill="#eab308"/>
<rect x="258.11" y="312.50" width="2.2" height="27.50" fill="#f97316"/>
<rect x="260.99" y="325.00" width="2.2" height="15.00" fill="#f97316"/>
<rect x="263.88" y="320.00" width="2.2" height="20.00" fill="#eab308"/>
<rect x="266.77" y="317.00" width="2.2" height="23.00" fill="#f97316"/>
<rect x="269.65" y="323.00" width="2.2" height="17.00" fill="#eab308"/>
<rect x="272.54" y="323.00" width="2.2" height="17.00" fill="#f97316"/>
<rect x="275.43" y="329.00" width="2.2" height="11.00" fill="#f97316"/>
<rect x="278.31" y="335.00" width="2.2" height="5.00" fill="#eab308"/>
<rect x="281.20" y="332.00" width="2.2" height="8.00" fill="#f97316"/>
<rect x="284.09" y="333.50" width="2.2" height="6.50" fill="#f97316"/>
<rect x="286.98" y="314.50" width="2.2" height="25.50" fill="#f97316"/>
<rect x="289.86" y="305.00" width="2.2" height="35.00" fill="#f97316"/>
<rect x="292.75" y="318.00" width="2.2" height="22.00" fill="#f97316"/>
<rect x="295.64" y="324.50" width="2.2" height="15.50" fill="#f97316"/>
<rect x="298.52" y="318.00" width="2.2" height="22.00" fill="#f97316"/>
<rect x="301.41" y="332.50" width="2.2" height="7.50" fill="#eab308"/>
<rect x="304.30" y="331.00" width="2.2" height="9.00" fill="#eab308"/>
<rect x="307.18" y="322.50" width="2.2" height="17.50" fill="#f97316"/>
<rect x="310.07" y="326.50" width="2.2" height="13.50" fill="#eab308"/>
<rect x="312.96" y="326.00" width="2.2" height="14.00" fill="#eab308"/>
<rect x="315.85" y="323.00" width="2.2" height="17.00" fill="#f97316"/>
<rect x="318.73" y="328.00" width="2.2" height="12.00" fill="#f97316"/>
<rect x="321.62" y="332.00" width="2.2" height="8.00" fill="#eab308"/>
<rect x="324.51" y="331.00" width="2.2" height="9.00" fill="#eab308"/>
<rect x="327.39" y="326.00" width="2.2" height="14.00" fill="#f97316"/>
<rect x="330.28" y="327.00" width="2.2" height="13.00" fill="#f97316"/>
<rect x="333.17" y="326.50" width="2.2" height="13.50" fill="#f97316"/>
<rect x="336.05" y="312.00" width="2.2" height="28.00" fill="#f97316"/>
<rect x="338.94" y="318.00" width="2.2" height="22.00" fill="#eab308"/>
<rect x="341.83" y="328.00" width="2.2" height="12.00" fill="#f97316"/>
<rect x="344.72" y="325.50" width="2.2" height="14.50" fill="#eab308"/>
<rect x="347.60" y="315.00" width="2.2" height="25.00" fill="#eab308"/>
<rect x="350.49" y="323.00" width="2.2" height="17.00" fill="#f97316"/>
<rect x="353.38" y="327.00" width="2.2" height="13.00" fill="#eab308"/>
<rect x="356.26" y="325.50" width="2.2" height="14.50" fill="#f97316"/>
<rect x="359.15" y="327.50" width="2.2" height="12.50" fill="#eab308"/>
<rect x="362.04" y="331.00" width="2.2" height="9.00" fill="#eab308"/>
<rect x="364.93" y="322.50" width="2.2" height="17.50" fill="#f97316"/>
<rect x="367.81" y="316.00" width="2.2" height="24.00" fill="#eab308"/>
<rect x="370.70" y="321.00" width="2.2" height="19.00" fill="#f97316"/>
<rect x="373.59" y="303.50" width="2.2" height="36.50" fill="#f97316"/>
<rect x="376.47" y="315.00" width="2.2" height="25.00" fill="#f97316"/>
<rect x="379.36" y="314.50" width="2.2" height="25.50" fill="#eab308"/>
<rect x="382.25" y="326.50" width="2.2" height="13.50" fill="#f97316"/>
<rect x="385.13" y="326.00" width="2.2" height="14.00" fill="#f97316"/>
<rect x="388.02" y="328.00" width="2.2" height="12.00" fill="#f97316"/>
<rect x="390.91" y="323.00" width="2.2" height="17.00" fill="#eab308"/>
<rect x="393.80" y="327.50" width="2.2" height="12.50" fill="#eab308"/>
<rect x="396.68" y="324.00" width="2.2" height="16.00" fill="#eab308"/>
<rect x="399.57" y="321.00" width="2.2" height="19.00" fill="#eab308"/>
<rect x="402.46" y="331.00" width="2.2" height="9.00" fill="#f97316"/>
<rect x="405.34" y="332.00" width="2.2" height="8.00" fill="#f97316"/>
<rect x="408.23" y="329.00" width="2.2" height="11.00" fill="#f97316"/>
<rect x="411.12" y="329.00" width="2.2" height="11.00" fill="#eab308"/>
<rect x="414.00" y="328.50" width="2.2" height="11.50" fill="#eab308"/>
<rect x="416.89" y="322.00" width="2.2" height="18.00" fill="#eab308"/>
<rect x="419.78" y="327.00" width="2.2" height="13.00" fill="#f97316"/>
<rect x="422.67" y="333.00" width="2.2" height="7.00" fill="#f97316"/>
<rect x="425.55" y="333.50" width="2.2" height="6.50" fill="#f97316"/>
<rect x="428.44" y="324.00" width="2.2" height="16.00" fill="#f97316"/>
<rect x="431.33" y="326.00" width="2.2" height="14.00" fill="#f97316"/>
<rect x="434.21" y="329.50" width="2.2" height="10.50" fill="#eab308"/>
<rect x="437.10" y="325.50" width="2.2" height="14.50" fill="#eab308"/>
<rect x="439.99" y="319.00" width="2.2" height="21.00" fill="#f97316"/>
<rect x="442.87" y="333.00" width="2.2" height="7.00" fill="#eab308"/>
<rect x="445.76" y="334.00" width="2.2" height="6.00" fill="#f97316"/>
<rect x="448.65" y="328.00" width="2.2" height="12.00" fill="#f97316"/>
<rect x="451.54" y="325.50" width="2.2" height="14.50" fill="#eab308"/>
<rect x="454.42" y="329.00" width="2.2" height="11.00" fill="#f97316"/>
<rect x="457.31" y="334.00" width="2.2" height="6.00" fill="#eab308"/>
<rect x="460.20" y="327.00" width="2.2" height="13.00" fill="#eab308"/>
<rect x="463.08" y="331.00" width="2.2" height="9.00" fill="#eab308"/>
<rect x="465.97" y="317.00" width="2.2" height="23.00" fill="#eab308"/>
<rect x="468.86" y="318.00" width="2.2" height="22.00" fill="#f97316"/>
<rect x="471.75" y="328.00" width="2.2" height="12.00" fill="#f97316"/>
<rect x="474.63" y="326.50" width="2.2" height="13.50" fill="#f97316"/>
<rect x="477.52" y="331.50" width="2.2" height="8.50" fill="#eab308"/>
<rect x="480.41" y="330.00" width="2.2" height="10.00" fill="#f97316"/>
<rect x="483.29" y="337.50" width="2.2" height="2.50" fill="#f97316"/>
<rect x="486.18" y="334.50" width="2.2" height="5.50" fill="#f97316"/>
<rect x="489.07" y="332.00" width="2.2" height="8.00" fill="#eab308"/>
<rect x="491.95" y="331.50" width="2.2" height="8.50" fill="#eab308"/>
<rect x="494.84" y="326.00" width="2.2" height="14.00" fill="#f97316"/>
<rect x="497.73" y="329.50" width="2.2" height="10.50" fill="#f97316"/>
<rect x="500.62" y="330.50" width="2.2" height="9.50" fill="#eab308"/>
<rect x="503.50" y="337.00" width="2.2" height="3.00" fill="#f97316"/>
<rect x="506.39" y="335.00" width="2.2" height="5.00" fill="#f97316"/>
<rect x="509.28" y="332.50" width="2.2" height="7.50" fill="#eab308"/>
<rect x="512.16" y="332.50" width="2.2" height="7.50" fill="#f97316"/>
<rect x="515.05" y="326.00" width="2.2" height="14.00" fill="#f97316"/>
<rect x="517.94" y="320.00" width="2.2" height="20.00" fill="#f97316"/>
<rect x="520.82" y="319.00" width="2.2" height="21.00" fill="#f97316"/>
<rect x="523.71" y="333.00" width="2.2" height="7.00" fill="#eab308"/>
<rect x="526.60" y="332.50" width="2.2" height="7.50" fill="#f97316"/>
<rect x="529.49" y="318.00" width="2.2" height="22.00" fill="#f97316"/>
<rect x="532.37" y="314.00" width="2.2" height="26.00" fill="#eab308"/>
<rect x="535.26" y="326.00" width="2.2" height="14.00" fill="#f97316"/>
<rect x="538.15" y="327.50" width="2.2" height="12.50" fill="#f97316"/>
<rect x="541.03" y="324.00" width="2.2" height="16.00" fill="#eab308"/>
<rect x="543.92" y="334.50" width="2.2" height="5.50" fill="#eab308"/>
<rect x="546.81" y="329.50" width="2.2" height="10.50" fill="#eab308"/>
<rect x="549.69" y="326.00" width="2.2" height="14.00" fill="#f97316"/>
<rect x="552.58" y="323.00" width="2.2" height="17.00" fill="#f97316"/>
<rect x="555.47" y="328.00" width="2.2" height="12.00" fill="#eab308"/>
<rect x="558.36" y="327.00" width="2.2" height="13.00" fill="#eab308"/>
<rect x="561.24" y="309.00" width="2.2" height="31.00" fill="#eab308"/>
<rect x="564.13" y="334.00" width="2.2" height="6.00" fill="#f97316"/>
<rect x="567.02" y="332.50" width="2.2" height="7.50" fill="#f97316"/>
<rect x="569.90" y="329.00" width="2.2" height="11.00" fill="#eab308"/>
<rect x="572.79" y="328.00" width="2.2" height="12.00" fill="#eab308"/>
<rect x="575.68" y="327.50" width="2.2" height="12.50" fill="#eab308"/>
<rect x="578.57" y="326.00" width="2.2" height="14.00" fill="#eab308"/>
<rect x="581.45" y="320.00" width="2.2" height="20.00" fill="#eab308"/>
<rect x="584.34" y="331.00" width="2.2" height="9.00" fill="#eab308"/>
<rect x="587.23" y="334.00" width="2.2" height="6.00" fill="#f97316"/>
<rect x="590.11" y="332.00" width="2.2" height="8.00" fill="#f97316"/>
<rect x="593.00" y="330.00" width="2.2" height="10.00" fill="#eab308"/>
<rect x="595.89" y="332.00" width="2.2" height="8.00" fill="#f97316"/>
<rect x="598.77" y="329.00" width="2.2" height="11.00" fill="#f97316"/>
<rect x="601.66" y="332.00" width="2.2" height="8.00" fill="#eab308"/>
<rect x="604.55" y="332.50" width="2.2" height="7.50" fill="#eab308"/>
<rect x="607.44" y="328.50" width="2.2" height="11.50" fill="#f97316"/>
<rect x="610.32" y="319.00" width="2.2" height="21.00" fill="#eab308"/>
<rect x="613.21" y="326.50" width="2.2" height="13.50" fill="#f97316"/>
<rect x="616.10" y="321.50" width="2.2" height="18.50" fill="#f97316"/>
<rect x="618.98" y="317.50" width="2.2" height="22.50" fill="#eab308"/>
<rect x="621.87" y="329.00" width="2.2" height="11.00" fill="#eab308"/>
<rect x="624.76" y="335.00" width="2.2" height="5.00" fill="#f97316"/>
<rect x="627.64" y="335.50" width="2.2" height="4.50" fill="#f97316"/>
<rect x="630.53" y="326.00" width="2.2" height="14.00" fill="#eab308"/>
<rect x="633.42" y="325.50" width="2.2" height="14.50" fill="#eab308"/>
<rect x="636.31" y="327.50" width="2.2" height="12.50" fill="#f97316"/>
<rect x="639.19" y="331.00" width="2.2" height="9.00" fill="#eab308"/>
<rect x="642.08" y="321.50" width="2.2" height="18.50" fill="#f97316"/>
<rect x="644.97" y="331.00" width="2.2" height="9.00" fill="#eab308"/>
<rect x="647.85" y="323.00" width="2.2" height="17.00" fill="#eab308"/>
<rect x="650.74" y="320.00" width="2.2" height="20.00" fill="#eab308"/>
<rect x="653.63" y="325.00" width="2.2" height="15.00" fill="#f97316"/>
<rect x="656.52" y="329.00" width="2.2" height="11.00" fill="#eab308"/>
<rect x="659.40" y="331.00" width="2.2" height="9.00" fill="#f97316"/>
<rect x="662.29" y="322.00" width="2.2" height="18.00" fill="#eab308"/>
<rect x="665.18" y="331.00" width="2.2" height="9.00" fill="#f97316"/>
<rect x="668.06" y="332.00" width="2.2" height="8.00" fill="#eab308"/>
<rect x="670.95" y="327.00" width="2.2" height="13.00" fill="#f97316"/>
<rect x="673.84" y="325.00" width="2.2" height="15.00" fill="#f97316"/>
<rect x="676.72" y="330.50" width="2.2" height="9.50" fill="#f97316"/>
<rect x="679.61" y="330.00" width="2.2" height="10.00" fill="#eab308"/>
<rect x="682.50" y="322.50" width="2.2" height="17.50" fill="#eab308"/>
<rect x="685.39" y="336.00" width="2.2" height="4.00" fill="#eab308"/>
<rect x="688.27" y="335.50" width="2.2" height="4.50" fill="#f97316"/>
<rect x="691.16" y="330.50" width="2.2" height="9.50" fill="#f97316"/>
<rect x="694.05" y="327.50" width="2.2" height="12.50" fill="#eab308"/>
<rect x="696.93" y="326.00" width="2.2" height="14.00" fill="#f97316"/>
<rect x="699.82" y="329.00" width="2.2" height="11.00" fill="#f97316"/>
<rect x="702.71" y="327.50" width="2.2" height="12.50" fill="#f97316"/>
<rect x="705.59" y="333.00" width="2.2" height="7.00" fill="#eab308"/>
<rect x="708.48" y="334.50" width="2.2" height="5.50" fill="#eab308"/>
<rect x="711.37" y="329.00" width="2.2" height="11.00" fill="#f97316"/>
<rect x="714.26" y="331.00" width="2.2" height="9.00" fill="#f97316"/>
<rect x="717.14" y="326.50" width="2.2" height="13.50" fill="#eab308"/>
<rect x="720.03" y="330.50" width="2.2" height="9.50" fill="#f97316"/>
<rect x="722.92" y="332.50" width="2.2" height="7.50" fill="#eab308"/>
<rect x="725.80" y="336.00" width="2.2" height="4.00" fill="#f97316"/>
<rect x="728.69" y="336.00" width="2.2" height="4.00" fill="#eab308"/>
<rect x="731.58" y="323.00" width="2.2" height="17.00" fill="#eab308"/>
<rect x="734.46" y="330.00" width="2.2" height="10.00" fill="#eab308"/>
<rect x="737.35" y="330.00" width="2.2" height="10.00" fill="#f97316"/>
<rect x="740.24" y="323.00" width="2.2" height="17.00" fill="#eab308"/>
<rect x="743.13" y="328.50" width="2.2" height="11.50" fill="#f97316"/>
<rect x="746.01" y="335.50" width="2.2" height="4.50" fill="#eab308"/>
<rect x="748.90" y="337.00" width="2.2" height="3.00" fill="#f97316"/>
</g>
<path d="M54,70H60V262.65H54" fill="none" stroke="#0f172a" stroke-width="2"/>
<g stroke="#0f172a" stroke-width="2">
<line x1="54" x2="60" y1="108.5" y2="108.5"/>
<line x1="54" x2="60" y1="147.1" y2="147.1"/>
<line x1="54" x2="60" y1="185.6" y2="185.6"/>
<line x1="54" x2="60" y1="224.1" y2="224.1"/>
</g>
<text class="yl" x="51.4" y="73.7">124 474 $</text>
<text class="yl" x="51.4" y="112.2">114 481 $</text>
<text class="yl" x="51.4" y="150.8">104 488 $</text>
<text class="yl" x="51.4" y="189.3">94 494 $</text>
<text class="yl" x="51.4" y="227.8">84 501 $</text>
<text class="yl" x="51.4" y="266.3">74 508 $</text>
<path d="M60,344V340H750V344" fill="none" stroke="#0f172a" stroke-width="2"/>
<g stroke="#0f172a" stroke-width="2">
<line x1="175.48" x2="175.48" y1="340" y2="344"/>
<line x1="290.96" x2="290.96" y1="340" y2="344"/>
<line x1="406.44" x2="406.44" y1="340" y2="344"/>
<line x1="519.04" x2="519.04" y1="340" y2="344"/>
<line x1="634.52" x2="634.52" y1="340" y2="344"/>
</g>
<text class="xl" x="60.00" y="356">2025-02</text>
<text class="xl" x="175.48" y="356">2025-03</text>
<text class="xl" x="290.96" y="356">2025-04</text>
<text class="xl" x="406.44" y="356">2025-06</text>
<text class="xl" x="519.04" y="356">2025-07</text>
<text class="xl" x="634.52" y="356">2025-08</text>
<text class="xl" x="750.00" y="356">2025-09</text>
<text x="60" y="380" font-size="12" fill="#4b5768">График с техническими индикаторами</text>
</svg></body></html>
